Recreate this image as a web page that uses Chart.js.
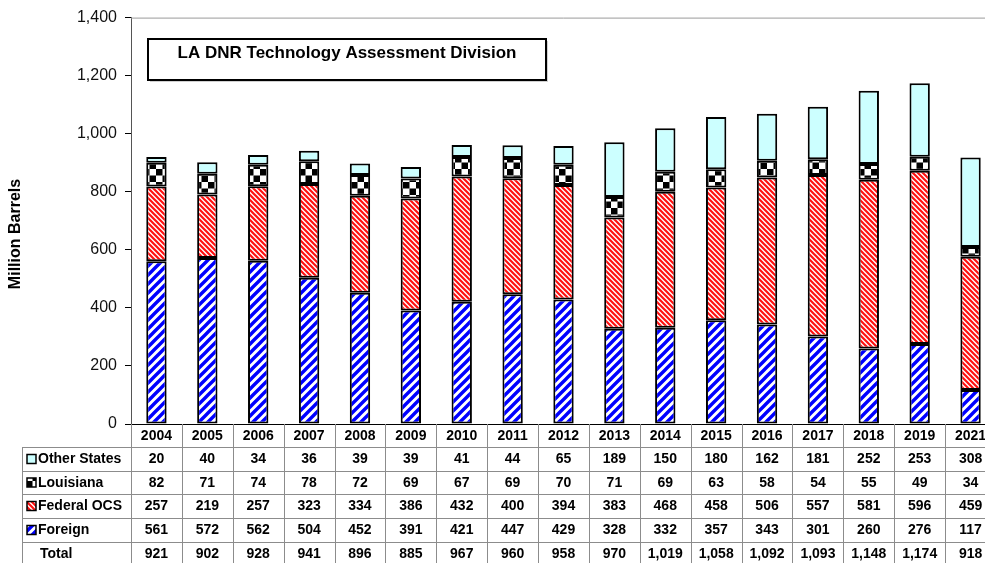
<!DOCTYPE html>
<html>
<head>
<meta charset="utf-8">
<script src="https://cdn.jsdelivr.net/npm/chart.js@4/dist/chart.umd.min.js"></script>
<style>
    html, body { margin: 0; padding: 0; background: #fff; overflow: hidden; }
    canvas { display: block; }
</style>
</head>
<body>
<canvas id="chartId" width="996" height="563"></canvas>
<script>
// crude oil supply by source, million barrels
const years = ["2004", "2005", "2006", "2007", "2008", "2009", "2010", "2011", "2012",
    "2013", "2014", "2015", "2016", "2017", "2018", "2019", "2021"];
const otherStates = [20, 40, 34, 36, 39, 39, 41, 44, 65, 189, 150, 180, 162, 181, 252, 253, 308];
const louisiana = [82, 71, 74, 78, 72, 69, 67, 69, 70, 71, 69, 63, 58, 54, 55, 49, 34];
const federalOCS = [257, 219, 257, 323, 334, 386, 432, 400, 394, 383, 468, 458, 506, 557, 581, 596, 459];
const foreign = [561, 572, 562, 504, 452, 391, 421, 447, 429, 328, 332, 357, 343, 301, 260, 276, 117];
const totals = [921, 902, 928, 941, 896, 885, 967, 960, 958, 970, 1019, 1058, 1092, 1093, 1148, 1174, 918];
const yTicks = [0, 200, 400, 600, 800, 1000, 1200, 1400];

const titleText = "LA DNR Technology Assessment Division";
const yTitle = "Million Barrels";

// fill patterns for the bar segments
function makePattern(kind) {
    let c = document.createElement("canvas");
    let g = c.getContext("2d");
    if (kind === "blue") {
        let s = 9;
        c.width = s; c.height = s;
        g.fillStyle = "#fff"; g.fillRect(0, 0, s, s);
        g.strokeStyle = "#0000ff"; g.lineWidth = 3.4;
        g.beginPath();
        g.moveTo(-2, 2); g.lineTo(2, -2);
        g.moveTo(0, s); g.lineTo(s, 0);
        g.moveTo(s - 2, s + 2); g.lineTo(s + 2, s - 2);
        g.stroke();
    } else if (kind === "red") {
        let s = 5;
        c.width = s; c.height = s;
        g.fillStyle = "#fff"; g.fillRect(0, 0, s, s);
        g.strokeStyle = "#ff1010"; g.lineWidth = 2.2;
        g.beginPath();
        g.moveTo(-1, -1); g.lineTo(s + 1, s + 1);
        g.moveTo(-2, s - 2); g.lineTo(2, s + 2);
        g.moveTo(s - 2, -2); g.lineTo(s + 2, 2);
        g.stroke();
    } else if (kind === "check") {
        let s = 13;
        c.width = s; c.height = s;
        g.fillStyle = "#fff"; g.fillRect(0, 0, s, s);
        g.fillStyle = "#000";
        g.fillRect(0, 0, 6.5, 6.5);
        g.fillRect(6.5, 6.5, 6.5, 6.5);
    }
    return g.createPattern(c, "repeat");
}

const patForeign = makePattern("blue");
const patOCS = makePattern("red");
const patLA = makePattern("check");
const fillOther = "#ccffff";

// title box, axis title and the data table under the bars
const tablePlugin = {
    id: "tablePlugin",
    afterDraw(chart) {
        let ctx = chart.ctx;
        let area = chart.chartArea;
        let xs = chart.scales.x;
        let step = xs.getPixelForValue(1) - xs.getPixelForValue(0);
        ctx.save();

        // plot frame top
        ctx.strokeStyle = "#9a9a9a";
        ctx.lineWidth = 1;
        ctx.beginPath();
        ctx.moveTo(area.left, area.top + 0.5);
        ctx.lineTo(area.right, area.top + 0.5);
        ctx.stroke();

        // title box
        ctx.fillStyle = "#d0d0d0";
        ctx.fillRect(150, 41, 398, 41);
        ctx.fillStyle = "#fff";
        ctx.fillRect(148, 39, 398, 41);
        ctx.strokeStyle = "#000";
        ctx.lineWidth = 2;
        ctx.strokeRect(148, 39, 398, 41);
        ctx.fillStyle = "#000";
        ctx.font = "bold 17px 'Liberation Sans', Arial, sans-serif";
        ctx.textAlign = "center";
        ctx.textBaseline = "middle";
        ctx.fillText(titleText, 347, 53);

        // y axis title
        ctx.save();
        ctx.translate(16, 234);
        ctx.rotate(-Math.PI / 2);
        ctx.font = "bold 16px 'Liberation Sans', Arial, sans-serif";
        ctx.fillText(yTitle, 0, 0);
        ctx.restore();

        // table grid
        let rowY = [area.bottom, 447, 471, 494, 518, 542, 565];
        let leftX = 22;
        ctx.strokeStyle = "#8c8c8c";
        ctx.lineWidth = 1;
        ctx.beginPath();
        for (let r = 1; r < rowY.length - 1; r++) {
            ctx.moveTo(leftX, rowY[r] + 0.5);
            ctx.lineTo(area.right, rowY[r] + 0.5);
        }
        ctx.moveTo(leftX + 0.5, rowY[1]);
        ctx.lineTo(leftX + 0.5, rowY[6]);
        for (let i = 0; i <= years.length; i++) {
            let x = Math.round(xs.getPixelForValue(0) - step / 2 + i * step) + 0.5;
            ctx.moveTo(x, area.bottom);
            ctx.lineTo(x, rowY[6]);
        }
        ctx.stroke();

        // row labels with legend keys
        let rows = [
            { label: "Other States", fill: fillOther, vals: otherStates },
            { label: "Louisiana", fill: patLA, vals: louisiana },
            { label: "Federal OCS", fill: patOCS, vals: federalOCS },
            { label: "Foreign", fill: patForeign, vals: foreign },
            { label: "Total", fill: null, vals: totals }
        ];
        ctx.font = "bold 14px 'Liberation Sans', Arial, sans-serif";
        ctx.textBaseline = "middle";
        rows.forEach((row, r) => {
            let cy = (rowY[r + 1] + rowY[r + 2]) / 2 + 0.5;
            if (row.fill) {
                ctx.fillStyle = row.fill;
                ctx.fillRect(27, cy - 5, 9, 9);
                ctx.strokeStyle = "#000";
                ctx.lineWidth = 1.5;
                ctx.strokeRect(27, cy - 5, 9, 9);
            }
            ctx.fillStyle = "#000";
            ctx.textAlign = "left";
            ctx.fillText(row.label, row.fill ? 38 : 40, cy);
            ctx.textAlign = "center";
            row.vals.forEach((v, i) => {
                ctx.fillText(v.toLocaleString("en-US"), xs.getPixelForValue(i), cy);
            });
        });

        // year header row
        ctx.textAlign = "center";
        years.forEach((y, i) => {
            ctx.fillText(y, xs.getPixelForValue(i), (rowY[0] + rowY[1]) / 2 + 1);
        });
        ctx.restore();
    }
};

function segment(label, data, fill) {
    return {
        label: label,
        data: data,
        backgroundColor: fill,
        borderColor: "#000",
        borderWidth: 2,
        borderSkipped: false,
        categoryPercentage: 1,
        barPercentage: 0.4
    };
}

var chrt = document.getElementById("chartId").getContext("2d");
var chartId = new Chart(chrt, {
    type: "bar",
    data: {
        labels: years,
        datasets: [
            segment("Foreign", foreign, patForeign),
            segment("Federal OCS", federalOCS, patOCS),
            segment("Louisiana", louisiana, patLA),
            segment("Other States", otherStates, fillOther)
        ]
    },
    options: {
        responsive: false,
        animation: false,
        layout: { padding: { top: 17, right: 0, left: 0, bottom: 0 } },
        plugins: {
            legend: { display: false },
            tooltip: { enabled: false }
        },
        scales: {
            x: {
                stacked: true,
                grid: { display: false },
                ticks: { display: false },
                border: { display: true, color: "#000", width: 1 },
                afterFit(s) { s.height = 139; }
            },
            y: {
                stacked: true,
                min: 0,
                max: 1400,
                afterBuildTicks(s) { s.ticks = yTicks.map(v => ({ value: v })); },
                ticks: {
                    color: "#111",
                    padding: 8,
                    font: { size: 16, family: "'Liberation Sans', Arial, sans-serif" },
                    callback: v => v.toLocaleString("en-US")
                },
                grid: { display: true, drawOnChartArea: false, drawTicks: true, tickLength: 6, color: "#000" },
                border: { display: true, color: "#555", width: 1 },
                afterFit(s) { s.width = 131; }
            }
        }
    },
    plugins: [tablePlugin]
});
</script>
</body>
</html>
